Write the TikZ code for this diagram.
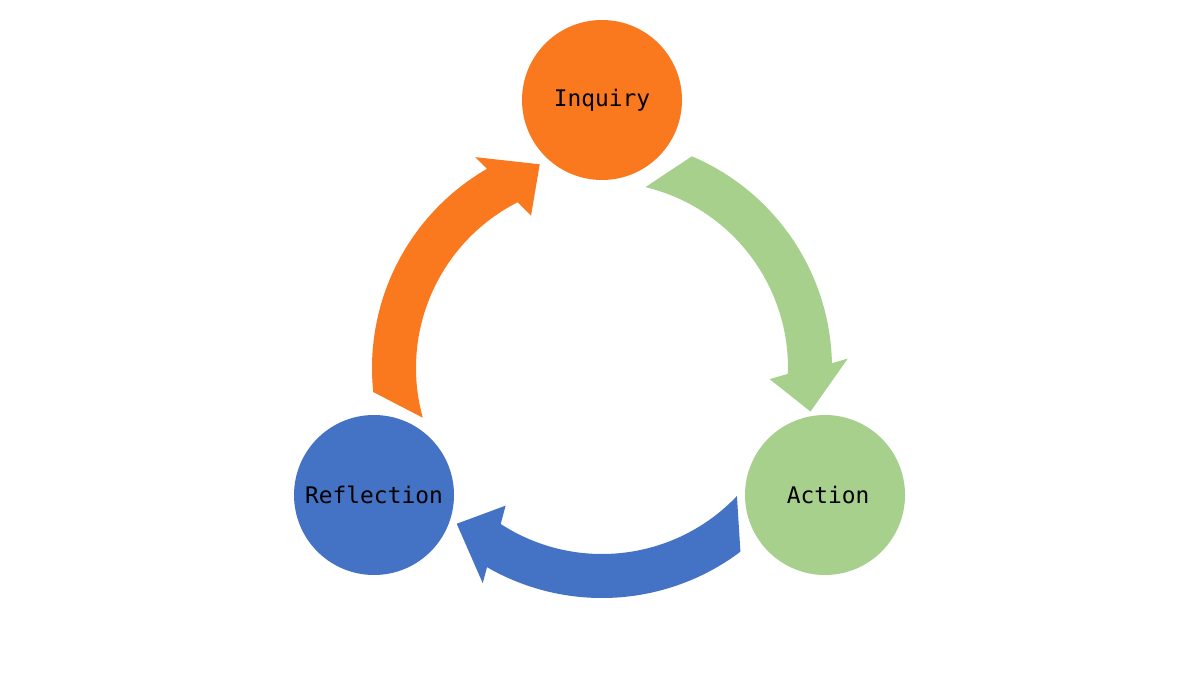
\documentclass[tikz,border=0pt]{standalone}
\usepackage{fontspec}
\setmonofont{DejaVu Sans Mono}
\definecolor{inqorange}{RGB}{250,121,31}
\definecolor{actgreen}{RGB}{168,208,141}
\definecolor{refblue}{RGB}{68,114,196}

\newcommand{\cyclearrow}[3]{%
\fill[color=#1] (#2:4.6) arc[start angle=#2,end angle=#3,radius=4.6]
	-- ({#3+1}:4.92) -- ({#3-13}:4.26) -- ({#3-5}:3.36) -- ({#3-3}:3.72)
	arc[start angle={#3-3},end angle={#2+9.5},radius=3.72] -- cycle;}

\begin{document}
\begin{tikzpicture}[stage/.style={circle,minimum size=3.2cm,inner sep=0pt,
	font=\ttfamily\fontsize{13}{13}\selectfont}]
\useasboundingbox (0,0) rectangle (24,13.48);
\coordinate (hub) at (12.04,6.12);
\begin{scope}[shift={(hub)}]
\cyclearrow{actgreen}{67}{1.2}
\cyclearrow{refblue}{-53}{-120}
\cyclearrow{inqorange}{186}{120}
\end{scope}
\node[stage,fill=inqorange] (inquiry) at (12.04,11.48) {Inquiry};
\node[stage,fill=refblue] (reflection) at (7.48,3.58) {Reflection};
\node[stage,fill=actgreen] (action) at (16.5,3.58) {\hspace{0.12cm}Action};
\end{tikzpicture}
\end{document}
